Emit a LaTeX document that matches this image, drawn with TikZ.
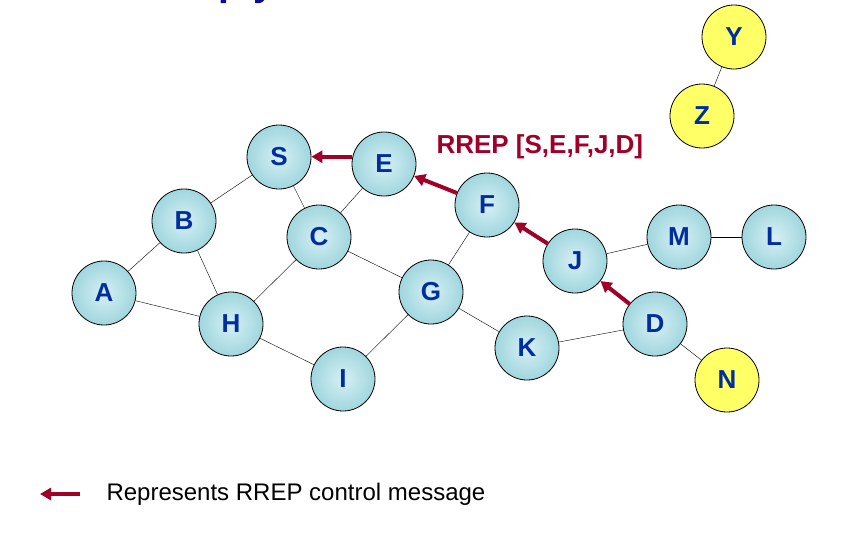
\documentclass[tikz,border=0pt]{standalone}
\usepackage{fontspec}
\setmainfont{Liberation Sans}
\usepackage{tikz}
\usetikzlibrary{arrows.meta}
\definecolor{DropLight}{RGB}{214,240,244}
\definecolor{DropDark}{RGB}{160,214,222}
\definecolor{LabelBlue}{RGB}{0,45,160}
\definecolor{TitleBlue}{RGB}{10,10,160}
\definecolor{FarYellow}{RGB}{255,255,102}
\definecolor{RrepRed}{RGB}{160,0,40}

\begin{document}
\begin{tikzpicture}[x=1pt,y=-1pt]
\tikzset{
node/.style={ circle , draw=black , line width=0.8pt ,
minimum size=64pt , inner sep=0pt ,
font=\fontsize{26}{26}\selectfont\bfseries , text=LabelBlue },
host/.style={ node , shading=radial , inner color=DropLight , outer color=DropDark },
far/.style={ node , fill=FarYellow },
rrep/.style={ -{Triangle[length=11pt,width=12pt]} , line width=4pt , draw=RrepRed }
}
\useasboundingbox (0,0) rectangle (868,539);

\node[anchor=base west,font=\fontsize{39}{40}\selectfont\bfseries,text=TitleBlue] (title) at (44,-5) {Route Reply in DSR};

\node[host] (A) at (104,293) {A};
\node[host] (B) at (184,221) {B};
\node[host] (S) at (279,157) {S};
\node[host] (C) at (319,237) {C};
\node[host] (H) at (231,324) {H};
\node[host] (I) at (343,379) {I};
\node[host] (E) at (384,164) {E};
\node[host] (F) at (487,205) {F};
\node[host] (G) at (431,292) {G};
\node[host] (K) at (527,348) {K};
\node[host] (J) at (575,261) {J};
\node[host] (D) at (655,324) {D};
\node[host] (M) at (679,237) {M};
\node[host] (L) at (774,237) {L};
\node[far] (N) at (727,380) {N};
\node[far] (Y) at (734,37) {Y};
\node[far] (Z) at (702,116) {Z};

\draw (A) -- (B);  \draw (A) -- (H);  \draw (B) -- (H);
\draw (B) -- (S);  \draw (S) -- (C);  \draw (C) -- (E);
\draw (C) -- (H);  \draw (C) -- (G);  \draw (H) -- (I);
\draw (G) -- (I);  \draw (G) -- (F);  \draw (G) -- (K);
\draw (K) -- (D);  \draw (D) -- (N);  \draw (J) -- (M);
\draw (M) -- (L);  \draw (Y) -- (Z);

\draw[rrep] (E.167) -- (E.167 -| S.east);
\draw[rrep] (F) -- (E);
\draw[rrep] (J) -- (F);
\draw[rrep] (D) -- (J);

\node[anchor=west,font=\fontsize{26}{30}\selectfont\bfseries,text=RrepRed] (path) at (433,147) {RREP [S,E,F,J,D]};

\coordinate (keyR) at (80,494);
\coordinate (keyL) at (40,494);
\draw[rrep] (keyR) -- (keyL);
\node[anchor=west,font=\fontsize{24}{28}\selectfont] (key) at (103,494) {Represents RREP control message};

\end{tikzpicture}
\end{document}
